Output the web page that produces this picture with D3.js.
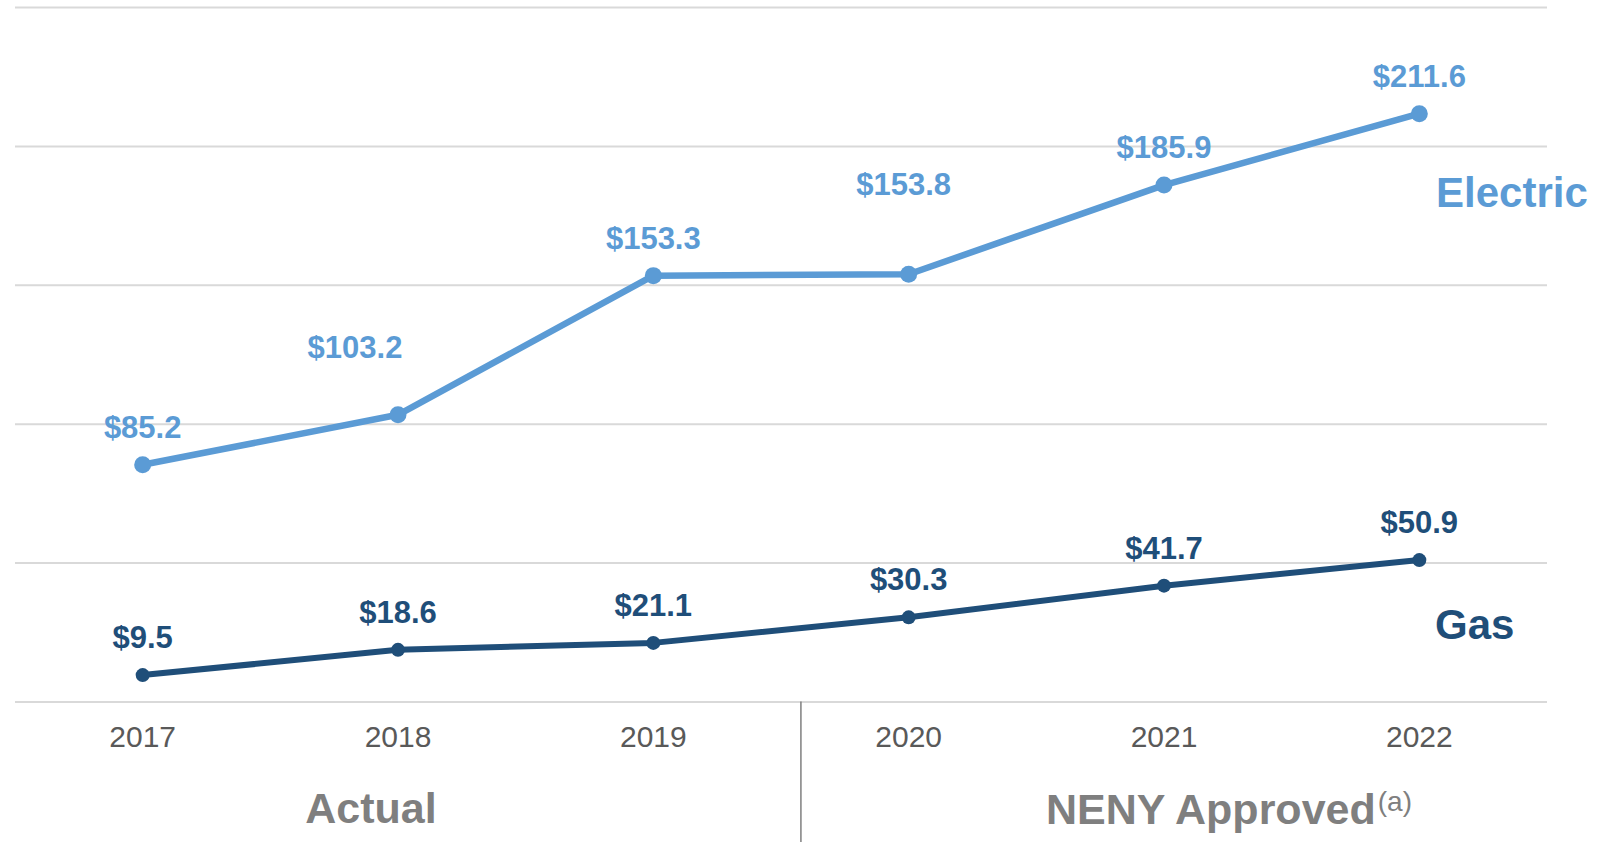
<!DOCTYPE html>
<html>
<head>
<meta charset="utf-8">
<script src="https://cdn.jsdelivr.net/npm/d3@7"></script>
<style>
  html, body { margin: 0; padding: 0; background: #ffffff; }
  svg { display: block; font-family: "Liberation Sans", Arial, sans-serif; }
</style>
</head>
<body>
<svg id="chart" width="1608" height="842"></svg>
<script>
// ---- data ----
const years = ["2017", "2018", "2019", "2020", "2021", "2022"];
const electricValues = [85.2, 103.2, 153.3, 153.8, 185.9, 211.6];
const gasValues = [9.5, 18.6, 21.1, 30.3, 41.7, 50.9];
const gridTicks = [0, 50, 100, 150, 200, 250];
const seriesNames = ["Electric", "Gas"];
const periodLabels = ["Actual", "NENY Approved"];
const periodNote = "(a)";

// ---- layout ----
const svg = d3.select("#chart");
const plotLeft = 15, plotRight = 1547, plotTop = 7, plotBottom = 701.5;

const x = d3.scaleBand().domain(years).range([plotLeft, plotRight]).paddingInner(0).paddingOuter(0);
const cx = d => x(d) + x.bandwidth() / 2;
const y = d3.scaleLinear().domain([0, 250]).range([plotBottom, plotTop]);

const colElectric = "#5b9bd5";
const colGas = "#1f4e79";

// gridlines via axis
const gridAxis = d3.axisLeft(y).tickValues(gridTicks).tickSize(-(plotRight - plotLeft)).tickFormat("");
const g = svg.append("g").attr("transform", `translate(${plotLeft},0)`).call(gridAxis);
g.select(".domain").remove();
g.selectAll(".tick line").attr("stroke", "#d9d9d9").attr("stroke-width", 2);

// x axis labels
const xAxis = d3.axisBottom(x).tickSize(0).tickPadding(0);
const gx = svg.append("g").attr("transform", `translate(0,${plotBottom})`).call(xAxis);
gx.select(".domain").remove();
gx.selectAll(".tick text")
  .attr("y", 45)
  .attr("dy", 0)
  .attr("fill", "#595959")
  .style("font-size", "30px")
  .style("font-family", "'Liberation Sans', Arial, sans-serif");

// divider between actual and approved
const divX = cx("2019") + x.step() * 0.578;
svg.append("line")
  .attr("x1", divX).attr("x2", divX)
  .attr("y1", plotBottom).attr("y2", 842)
  .attr("stroke", "#7f7f7f").attr("stroke-width", 1.5);

// lines
const line = d3.line().x((d, i) => cx(years[i])).y(d => y(d));

function drawSeries(values, color, width, r) {
  svg.append("path").datum(values)
    .attr("d", line)
    .attr("fill", "none")
    .attr("stroke", color)
    .attr("stroke-width", width)
    .attr("stroke-linejoin", "round");
  svg.selectAll(null).data(values).enter().append("circle")
    .attr("cx", (d, i) => cx(years[i]))
    .attr("cy", d => y(d))
    .attr("r", r)
    .attr("fill", color);
}
drawSeries(electricValues, colElectric, 6.5, 8.5);
drawSeries(gasValues, colGas, 6, 7);

// data labels (a couple of electric labels are lifted / shifted in the original)
const electricNudge = { 1: [-43, -30], 3: [-5, -52] };
function drawLabels(values, color, nudge) {
  svg.selectAll(null).data(values).enter().append("text")
    .attr("x", (d, i) => cx(years[i]) + ((nudge[i] || [0, 0])[0]))
    .attr("y", (d, i) => y(d) - 27 + ((nudge[i] || [0, 0])[1]))
    .attr("text-anchor", "middle")
    .attr("fill", color)
    .style("font-size", "31px")
    .style("font-weight", "bold")
    .text(d => "$" + d3.format(".1f")(d));
}
drawLabels(electricValues, colElectric, electricNudge);
drawLabels(gasValues, colGas, {});

// series names
svg.append("text")
  .attr("x", 1436).attr("y", 206.7)
  .attr("fill", colElectric)
  .style("font-size", "42px").style("font-weight", "bold")
  .text(seriesNames[0]);
svg.append("text")
  .attr("x", 1435).attr("y", 639)
  .attr("fill", colGas)
  .style("font-size", "42px").style("font-weight", "bold")
  .text(seriesNames[1]);

// period labels
svg.append("text")
  .attr("x", 371).attr("y", 823)
  .attr("text-anchor", "middle")
  .attr("fill", "#7f7f7f")
  .style("font-size", "43px").style("font-weight", "bold")
  .text(periodLabels[0]);
const neny = svg.append("text")
  .attr("x", 1046).attr("y", 824)
  .attr("fill", "#7f7f7f")
  .style("font-size", "43px").style("font-weight", "bold");
neny.append("tspan").text(periodLabels[1]);
neny.append("tspan")
  .attr("dy", -13)
  .attr("dx", 2)
  .style("font-size", "28px").style("font-weight", "normal")
  .text(periodNote);
</script>
</body>
</html>
